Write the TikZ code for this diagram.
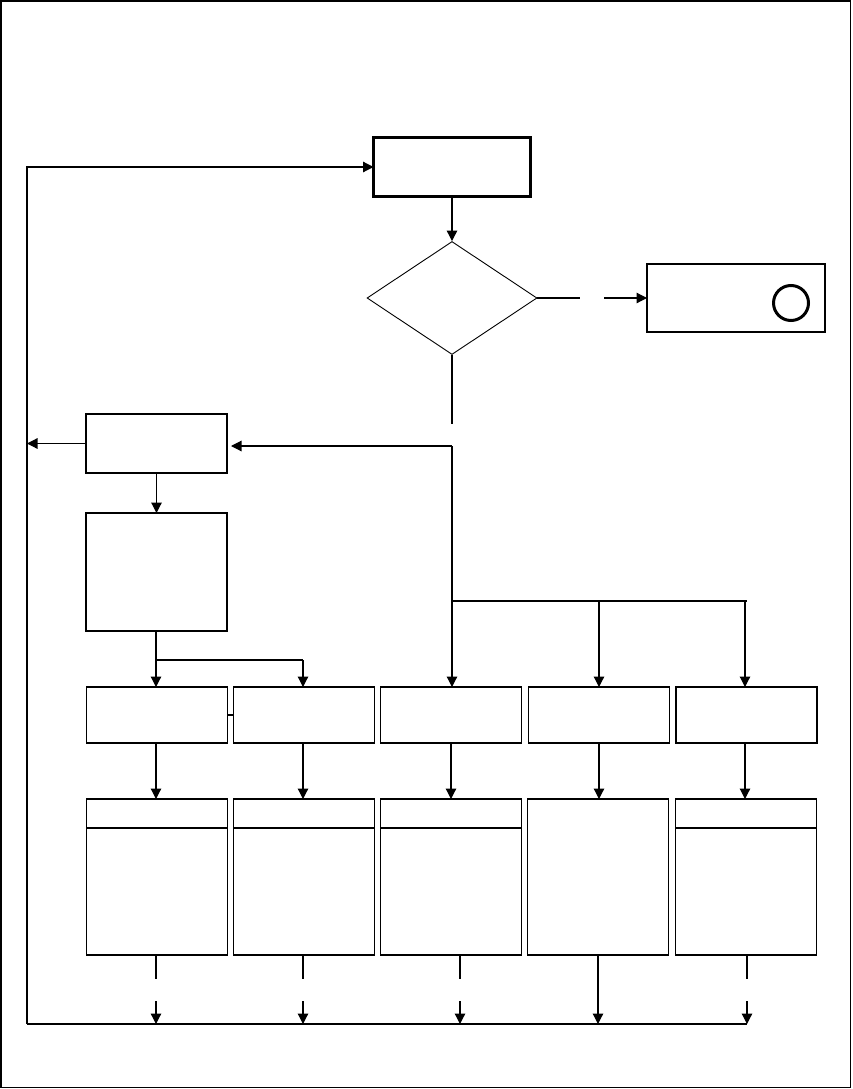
\documentclass[tikz,border=0pt]{standalone}
\usetikzlibrary{arrows.meta,shapes.geometric}
\begin{document}
\begin{tikzpicture}[x=1pt,y=-1pt,
  ln/.style={line width=1.2pt},
  arr/.style={ln,-{Triangle[length=10.5pt,width=10.5pt]}},
  box/.style={draw,line width=1.2pt,rectangle,inner sep=0pt,outer sep=0pt},
  rowbox/.style={box,minimum width=141pt,minimum height=56pt},
  botbox/.style={box,minimum width=141pt,minimum height=156pt}]
\useasboundingbox (0,0) rectangle (852,1089);
\draw[line width=1.4pt] (1,1) rectangle (850.5,1087.5);
% main nodes
\node[box,line width=3pt,minimum width=157pt,minimum height=58pt] (top) at (452,167) {};
\node[draw,diamond,line width=0.9pt,inner sep=0pt,minimum width=170pt,minimum height=113pt] (dia) at (452,298) {};
\node[box,minimum width=178pt,minimum height=68pt] (rbox) at (736,298) {};
\node[draw,circle,line width=3pt,minimum size=35pt,inner sep=0pt] (circ) at (791,303) {};
\node[box,minimum width=141pt,minimum height=59pt] (lbox) at (156.5,443.5) {};
\node[box,minimum width=141pt,minimum height=118pt] (big) at (156.5,572) {};
% row boxes
\node[rowbox] (r1) at (157,715) {};
\node[rowbox] (r2) at (304,715) {};
\node[rowbox] (r3) at (451,715) {};
\node[rowbox] (r4) at (599,715) {};
\node[rowbox] (r5) at (746.5,715) {};
% bottom boxes
\node[botbox] (b1) at (157,877) {};
\node[botbox] (b2) at (304,877) {};
\node[botbox] (b3) at (451,877) {};
\node[botbox] (b4) at (598,877) {};
\node[botbox] (b5) at (746,877) {};
\foreach \b in {b1,b2,b3,b5}{\draw[ln] ([yshift=-29pt]\b.north west) -- ([yshift=-29pt]\b.north east);}
% coordinates
\coordinate (fbtop) at (27,167);
\coordinate (fbbot) at (27,1024);
\coordinate (fbend) at (747,1024);
\coordinate (dgap1) at (580,298);
\coordinate (dgap2) at (604,298);
\coordinate (dbot) at (452,424);
\coordinate (j1) at (452,446);
\coordinate (j2) at (452,601);
\coordinate (k1) at (156,660);
% connectors
\draw[arr] (fbbot) -- (fbtop) -- (top.west);
\draw[ln] (fbbot) -- (fbend);
\draw[arr] (top.south) -- (dia.north);
\draw[ln] (dia.east) -- (dgap1);
\draw[arr] (dgap2) -- (rbox.west);
\draw[ln] (dia.south) -- (dbot);
\draw[arr,shorten >=4pt] (j1) -- (j1 -| lbox.east);
\draw[arr] (lbox.west) -- (lbox.west -| fbtop);
\draw[arr] (lbox.south) -- (big.north);
\draw[ln] (j1) -- (j2) -- (j2 -| r5.north);
\draw[arr] (j2) -- (j2 |- r3.north);
\draw[arr] (j2 -| r4.north) -- (r4.north);
\draw[arr] (j2 -| 745,0) -- (745,687);
\draw[ln] (big.south -| k1) -- (k1) -- (k1 -| 303,0);
\draw[arr] (k1) -- (156,687);
\draw[arr] (303,660) -- (303,687);
\draw[ln] (r1.east) -- (r2.west);
% row to bottom
\draw[arr] (156,743) -- (156,799);
\draw[arr] (303,743) -- (303,799);
\draw[arr] (451,743) -- (451,799);
\draw[arr] (599,743) -- (599,799);
\draw[arr] (745,743) -- (745,799);
% bottom to feedback
\foreach \x in {156,303,460,747}{
  \draw[ln] (\x,955) -- (\x,979);
  \draw[arr] (\x,1001) -- (\x,1024);
}
\draw[arr] (598,955) -- (598,1024);
\end{tikzpicture}
\end{document}
